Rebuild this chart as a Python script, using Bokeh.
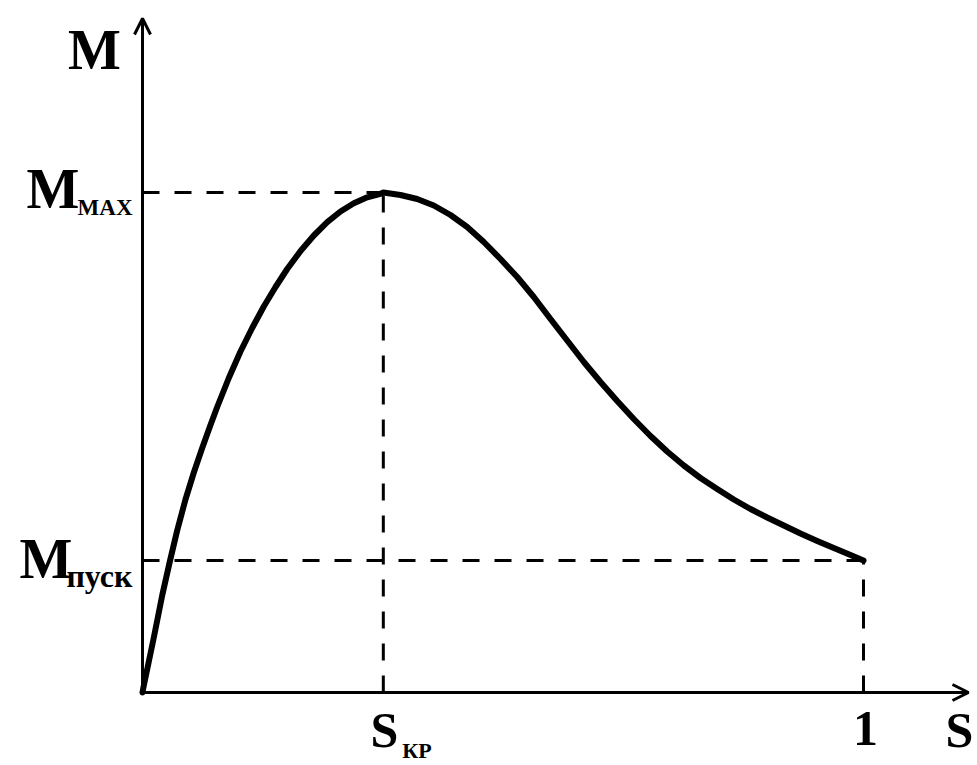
from bokeh.plotting import figure
from bokeh.models import Range1d, Arrow, OpenHead, Label
from bokeh.embed import file_html
from bokeh.resources import INLINE

# ---- data (slip S, torque M relative to M_max) ----
s_curve = [0.0, 0.0014, 0.0157, 0.0273, 0.0379, 0.0481, 0.0596, 0.0712, 0.0828,
           0.0943, 0.1036, 0.1197, 0.1359, 0.1521, 0.1682, 0.1845, 0.2007, 0.2192,
           0.2376, 0.2562, 0.2746, 0.2931, 0.3117, 0.3301, 0.334, 0.3578, 0.381,
           0.404, 0.4272, 0.4503, 0.4734, 0.4965, 0.5197, 0.5427, 0.5659, 0.589,
           0.6121, 0.6352, 0.6584, 0.6814, 0.7046, 0.7277, 0.7508, 0.7739, 0.7971,
           0.8201, 0.8433, 0.8664, 0.8895, 0.9126, 0.9358, 0.9588, 0.9820, 1.0]
m_curve = [0.0, 0.011, 0.11, 0.194, 0.262, 0.324, 0.386, 0.44, 0.489,
           0.535, 0.571, 0.629, 0.682, 0.729, 0.772, 0.811, 0.847, 0.883,
           0.914, 0.9406, 0.962, 0.9784, 0.9904, 0.9974, 1.0, 0.995, 0.987,
           0.974, 0.955, 0.931, 0.901, 0.867, 0.831, 0.791, 0.747, 0.704,
           0.661, 0.621, 0.583, 0.547, 0.513, 0.482, 0.454, 0.429, 0.407,
           0.386, 0.367, 0.35, 0.334, 0.318, 0.303, 0.289, 0.275, 0.264]
s_kr = 0.334
s_one = 1.0
m_max = 1.0
m_pusk = 0.264

# axis extents (arrow tips) in data units
x_axis_end = 1.1456
y_axis_end = 1.348

FONT = "Liberation Serif"
W, H = 977, 765

p = figure(width=W, height=H, output_backend="svg", toolbar_location=None,
           x_range=Range1d(-0.19695, 1.15811), y_range=Range1d(-0.146, 1.384),
           x_axis_type=None, y_axis_type=None, min_border=0)
p.outline_line_color = None
p.grid.visible = False
p.background_fill_color = "white"
p.border_fill_color = "white"

dash = "17 15"
# dashed guides
p.line([0, s_kr], [m_max, m_max], line_color="black", line_width=3, line_dash=dash)
p.line([s_kr, s_kr], [0, m_max], line_color="black", line_width=3, line_dash=dash)
p.line([0, s_one], [m_pusk, m_pusk], line_color="black", line_width=3, line_dash=dash)
p.line([s_one, s_one], [0, m_pusk], line_color="black", line_width=3, line_dash=dash)

# axes with arrows
p.add_layout(Arrow(end=OpenHead(size=16, line_width=3, line_color="black"),
                   x_start=0, y_start=0, x_end=x_axis_end, y_end=0,
                   line_width=3, line_color="black"))
p.add_layout(Arrow(end=OpenHead(size=16, line_width=3, line_color="black"),
                   x_start=0, y_start=0, x_end=0, y_end=y_axis_end,
                   line_width=3, line_color="black"))

# characteristic curve
p.line(s_curve, m_curve, line_color="black", line_width=6, line_join="round", line_cap="round")

def lab(x, y, text, size, xo, yo, align):
    p.add_layout(Label(x=x, y=y, text=text, x_offset=xo, y_offset=yo,
                       text_font=FONT, text_font_style="bold",
                       text_font_size=f"{size}px", text_align=align,
                       text_baseline="alphabetic", text_color="black"))

# axis titles
lab(0, y_axis_end, "M", 56, -48, -31, "center")
lab(x_axis_end, 0, "S", 50, -9, -37.5, "center")

# y labels
lab(0, m_max, "M", 56, -116, 4, "left")
lab(0, m_max, "MAX", 23, -10, -15, "right")
lab(0, m_pusk, "M", 56, -123, 2, "left")
lab(0, m_pusk, "пуск", 32, -10, -15.5, "right")

# x labels
lab(s_kr, 0, "S", 50, 1, -37.5, "center")
lab(s_kr, 0, "КР", 22, 19, -58.4, "left")
lab(s_one, 0, "1", 50, 2, -35.5, "center")

open("out.html", "w").write(file_html(p, INLINE))
